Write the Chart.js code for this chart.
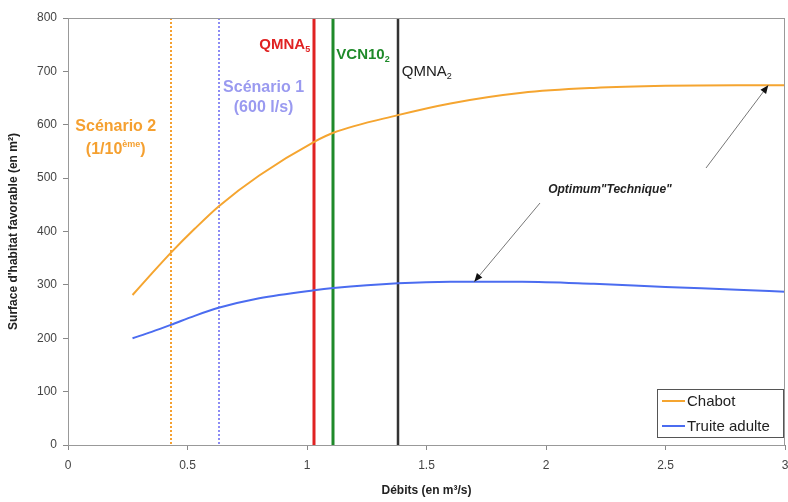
<!DOCTYPE html>
<html>
<head>
<meta charset="utf-8">
<script src="https://cdn.jsdelivr.net/npm/chart.js@4.4.1/dist/chart.umd.min.js"></script>
<style>
  html, body { margin: 0; padding: 0; background: #fff; }
  #wrap { width: 788px; height: 502px; }
</style>
</head>
<body>
<div id="wrap"><canvas id="habitatChart" width="788" height="502"></canvas></div>
<script>
// débits (m3/s) and habitat surfaces (m2)
const debits = [0.27, 0.35, 0.43, 0.53, 0.63, 0.8, 1.03, 1.11, 1.38, 1.6, 1.9, 2.2, 2.5, 2.8, 3.0];
const chabot = [281, 321, 360, 405, 447, 505, 568, 585, 618, 640, 660, 669, 673, 674, 674];
const truite = [200, 212, 225, 242, 257, 275, 290, 294, 303, 306, 306, 302, 296, 291, 287];

const seriesNames = ["Chabot", "Truite adulte"];

// reference flows drawn as vertical lines
const refFlows = [0.43, 0.63, 1.03, 1.11, 1.38];
const refNames = ["Scénario 2", "Scénario 1", "QMNA5", "VCN102", "QMNA2"];

// points the "Optimum Technique" arrows point at
const optimumX = [1.7, 2.93];
const optimumY = [306, 674];

const xTicks = [0, 0.5, 1, 1.5, 2, 2.5, 3];
const yTicks = [0, 100, 200, 300, 400, 500, 600, 700, 800];

const FONT = "'Liberation Sans', Arial, sans-serif";

function toPoints(xs, ys) {
  return xs.map((x, i) => ({ x: x, y: ys[i] }));
}

function textWithScript(ctx, parts, x, y, align) {
  // parts: [{t, font, dy}]
  let total = 0;
  parts.forEach((p) => { ctx.font = p.font; total += ctx.measureText(p.t).width; });
  let cx = x;
  if (align === "right") cx = x - total;
  if (align === "center") cx = x - total / 2;
  ctx.textAlign = "left";
  parts.forEach((p) => {
    ctx.font = p.font;
    ctx.fillText(p.t, cx, y + (p.dy || 0));
    cx += ctx.measureText(p.t).width;
  });
}

function arrow(ctx, x1, y1, x2, y2) {
  ctx.save();
  ctx.strokeStyle = "#777";
  ctx.lineWidth = 1;
  ctx.beginPath();
  ctx.moveTo(x1, y1);
  ctx.lineTo(x2, y2);
  ctx.stroke();
  const a = Math.atan2(y2 - y1, x2 - x1);
  ctx.fillStyle = "#111";
  ctx.beginPath();
  ctx.moveTo(x2, y2);
  ctx.lineTo(x2 - 9 * Math.cos(a - 0.4), y2 - 9 * Math.sin(a - 0.4));
  ctx.lineTo(x2 - 9 * Math.cos(a + 0.4), y2 - 9 * Math.sin(a + 0.4));
  ctx.closePath();
  ctx.fill();
  ctx.restore();
}

const refLinesPlugin = {
  id: "refLines",
  beforeDatasetsDraw(chart) {
    const { ctx, chartArea, scales } = chart;
    const styles = [
      { color: "#f5a030", width: 2, dash: [2, 2] },
      { color: "#8c8cf5", width: 2, dash: [2, 2] },
      { color: "#e02222", width: 3, dash: [] },
      { color: "#1f8a2a", width: 3, dash: [] },
      { color: "#333333", width: 2.5, dash: [] },
    ];
    ctx.save();
    refFlows.forEach((f, i) => {
      const px = Math.round(scales.x.getPixelForValue(f));
      ctx.strokeStyle = styles[i].color;
      ctx.lineWidth = styles[i].width;
      ctx.setLineDash(styles[i].dash);
      ctx.beginPath();
      ctx.moveTo(px, chartArea.top);
      ctx.lineTo(px, chartArea.bottom);
      ctx.stroke();
    });
    ctx.restore();
  },
  afterDatasetsDraw(chart) {
    const { ctx, chartArea, scales } = chart;
    const xs = refFlows.map((f) => scales.x.getPixelForValue(f));
    ctx.save();
    ctx.textBaseline = "middle";

    // plot frame
    ctx.strokeStyle = "#999";
    ctx.lineWidth = 1;
    ctx.strokeRect(chartArea.left + 0.5, chartArea.top + 0.5, chartArea.width - 1, chartArea.height);

    const bold = (s) => "bold " + s + "px " + FONT;
    const norm = (s) => s + "px " + FONT;

    // Scénario 2
    ctx.fillStyle = "#f5a030";
    textWithScript(ctx, [{ t: refNames[0], font: bold(16) }], xs[0] - 55, 127, "center");
    textWithScript(ctx, [
      { t: "(1/10", font: bold(16) },
      { t: "ème", font: bold(9), dy: -5 },
      { t: ")", font: bold(16) },
    ], xs[0] - 55, 150, "center");

    // Scénario 1
    ctx.fillStyle = "#9a9af0";
    textWithScript(ctx, [{ t: refNames[1], font: bold(16) }], xs[1] + 45, 88, "center");
    textWithScript(ctx, [{ t: "(600 l/s)", font: bold(16) }], xs[1] + 45, 108, "center");

    // QMNA5
    ctx.fillStyle = "#e02222";
    textWithScript(ctx, [
      { t: "QMNA", font: bold(15) },
      { t: "5", font: bold(9), dy: 5 },
    ], xs[2] - 4, 45, "right");

    // VCN10 2
    ctx.fillStyle = "#1f8a2a";
    textWithScript(ctx, [
      { t: "VCN10", font: bold(15) },
      { t: "2", font: bold(9), dy: 5 },
    ], xs[3] + 3, 55, "left");

    // QMNA2
    ctx.fillStyle = "#222";
    textWithScript(ctx, [
      { t: "QMNA", font: norm(15) },
      { t: "2", font: norm(9), dy: 5 },
    ], xs[4] + 4, 72, "left");

    // Optimum "Technique"
    ctx.fillStyle = "#222";
    ctx.font = "italic bold 12px " + FONT;
    ctx.textAlign = "center";
    ctx.fillText("Optimum\"Technique\"", 610, 190);
    arrow(ctx, 540, 203, scales.x.getPixelForValue(optimumX[0]), scales.y.getPixelForValue(optimumY[0]));
    arrow(ctx, 706, 168, scales.x.getPixelForValue(optimumX[1]), scales.y.getPixelForValue(optimumY[1]));

    // legend box
    const lw = 126, lh = 48;
    const lx = chartArea.right - 2 - lw, ly = chartArea.bottom - 8 - lh;
    ctx.fillStyle = "#fff";
    ctx.fillRect(lx, ly, lw, lh);
    ctx.strokeStyle = "#555";
    ctx.lineWidth = 1;
    ctx.strokeRect(lx + 0.5, ly + 0.5, lw, lh);
    chart.data.datasets.forEach((ds, i) => {
      const y = ly + 12 + i * 25;
      ctx.strokeStyle = ds.borderColor;
      ctx.lineWidth = 2;
      ctx.beginPath();
      ctx.moveTo(lx + 5, y);
      ctx.lineTo(lx + 28, y);
      ctx.stroke();
      ctx.fillStyle = "#222";
      ctx.font = norm(15);
      ctx.textAlign = "left";
      ctx.fillText(ds.label, lx + 30, y + 1);
    });
    ctx.restore();
  },
};

const ctx = document.getElementById("habitatChart").getContext("2d");
new Chart(ctx, {
  type: "line",
  data: {
    datasets: [
      {
        label: seriesNames[0],
        data: toPoints(debits, chabot),
        borderColor: "#f5a530",
        borderWidth: 2,
        pointRadius: 0,
        cubicInterpolationMode: "monotone",
      },
      {
        label: seriesNames[1],
        data: toPoints(debits, truite),
        borderColor: "#4b6cf0",
        borderWidth: 2,
        pointRadius: 0,
        cubicInterpolationMode: "monotone",
      },
    ],
  },
  options: {
    responsive: false,
    animation: false,
    layout: { padding: { top: 18, right: 3, left: 0, bottom: 0 } },
    plugins: {
      legend: { display: false },
      tooltip: { enabled: false },
    },
    scales: {
      x: {
        type: "linear",
        min: 0,
        max: 3,
        afterBuildTicks: (s) => { s.ticks = xTicks.map((v) => ({ value: v })); },
        afterFit: (s) => { s.height = 57; s.paddingRight = 0; s.paddingLeft = 0; },
        grid: { drawOnChartArea: false, tickLength: 5, color: "#888" },
        border: { color: "#888" },
        ticks: {
          color: "#444",
          font: { family: FONT, size: 12 },
          padding: 8,
          callback: (v) => String(v),
        },
        title: {
          display: true,
          text: "Débits (en m³/s)",
          color: "#222",
          font: { family: FONT, size: 12, weight: "bold" },
          padding: { top: 2, bottom: 4 },
        },
      },
      y: {
        min: 0,
        max: 800,
        afterBuildTicks: (s) => { s.ticks = yTicks.map((v) => ({ value: v })); },
        afterFit: (s) => { s.width = 68; },
        grid: { drawOnChartArea: false, tickLength: 5, color: "#888" },
        border: { color: "#888" },
        ticks: { color: "#444", font: { family: FONT, size: 12 }, padding: 6 },
        title: {
          display: true,
          text: "Surface d'habitat favorable (en m²)",
          color: "#222",
          font: { family: FONT, size: 12, weight: "bold" },
          padding: { top: 6, bottom: 2 },
        },
      },
    },
  },
  plugins: [refLinesPlugin],
});
</script>
</body>
</html>
